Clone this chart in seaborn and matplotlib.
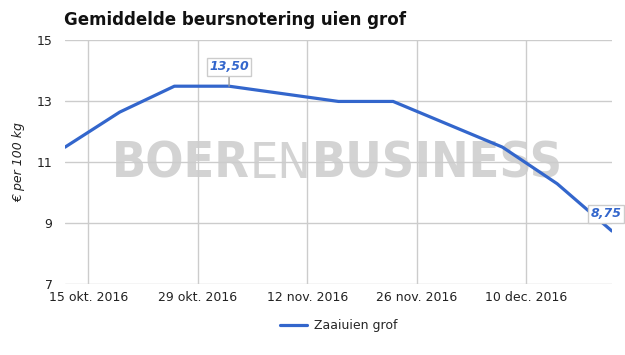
import matplotlib
matplotlib.use("Agg")
import matplotlib.pyplot as plt
import seaborn as sns
import pandas as pd
from matplotlib.lines import Line2D

dates = ["2016-10-12", "2016-10-19", "2016-10-26", "2016-11-02", "2016-11-16",
         "2016-11-23", "2016-12-07", "2016-12-14", "2016-12-21"]
prices = [11.5, 12.65, 13.5, 13.5, 13.0, 13.0, 11.5, 10.3, 8.75]
series_name = "Zaaiuien grof"
tick_dates = ["2016-10-15", "2016-10-29", "2016-11-12", "2016-11-26", "2016-12-10"]
tick_labels = ["15 okt. 2016", "29 okt. 2016", "12 nov. 2016", "26 nov. 2016", "10 dec. 2016"]
y_ticks = [7, 9, 11, 13, 15]

df = pd.DataFrame({"datum": pd.to_datetime(dates), "prijs": prices, "serie": series_name})

sns.set_theme(style="white")
plt.rcParams['font.family'] = ['DejaVu Sans']

fig = plt.figure(figsize=(6.25, 3.55), dpi=100)
ax = fig.add_axes([0.104, 0.199, 0.875, 0.687])
ax.set_ylim(7, 15)

# watermark
wm_y = 10.5
parts = [("BOER", "bold"), ("EN", "normal"), ("BUSINESS", "bold")]
fig.canvas.draw()
r = fig.canvas.get_renderer()
axbb = ax.get_window_extent(r)
target_w = 451.0
fs = 34
texts = []
for s, w in parts:
    t = ax.text(0, wm_y, s, fontsize=fs, fontweight=w, fontstretch="condensed",
                color="#d3d3d3", va="baseline", ha="left",
                transform=ax.get_yaxis_transform(), zorder=0)
    texts.append(t)
widths = [t.get_window_extent(r).width for t in texts]
scale = target_w / sum(widths)
for t in texts:
    t.set_fontsize(fs * scale)
widths = [t.get_window_extent(r).width for t in texts]
x = 112
for t, wdt in zip(texts, widths):
    t.set_x((x - axbb.x0) / axbb.width)
    x += wdt

sns.lineplot(data=df, x="datum", y="prijs", hue="serie", palette=["#3366cc"],
             linewidth=2.3, ax=ax, legend=False, zorder=3)

ax.set_ylim(7, 15)
ax.set_xlim(pd.Timestamp(dates[0]), pd.Timestamp(dates[-1]))
ax.set_yticks(y_ticks)
ax.set_yticklabels([str(v) for v in y_ticks])
ax.set_xticks(pd.to_datetime(tick_dates))
ax.set_xticklabels(tick_labels)
ax.grid(True, color="#cccccc", linewidth=1)
ax.set_axisbelow(True)
for s in ax.spines.values():
    s.set_visible(False)
ax.tick_params(axis="both", length=0, labelsize=9, colors="#222222")
ax.tick_params(axis="x", pad=5)
ax.tick_params(axis="y", pad=9)
ax.set_xlabel("")
ax.set_ylabel("€ per 100 kg", fontsize=9, fontstyle="italic", color="#222222", labelpad=8)

# annotations
ann_style = dict(fontsize=9, fontweight="bold", fontstyle="italic", color="#3366cc",
                 bbox=dict(boxstyle="square,pad=0.2", fc="white", ec="#cccccc", lw=1))
ax.annotate("13,50", xy=(pd.Timestamp(dates[3]), prices[3]), xytext=(0, 14),
            textcoords="offset points", ha="center", va="center",
            arrowprops=dict(arrowstyle="-", color="#999999", lw=1, shrinkA=0, shrinkB=0),
            **ann_style, zorder=5)
ax.annotate("8,75", xy=(pd.Timestamp(dates[-1]), prices[-1]), xytext=(-4, 12.5),
            textcoords="offset points", ha="center", va="center",
            **ann_style, zorder=5, annotation_clip=False)

fig.text(0.102, 0.943, "Gemiddelde beursnotering uien grof", fontsize=12,
         fontweight="bold", color="#111111", va="center", ha="left")

# legend
h = [Line2D([0], [0], color="#3366cc", lw=2.3)]
fig.legend(h, [series_name], loc="center", bbox_to_anchor=(0.5416, 0.082), frameon=False,
           fontsize=9, handlelength=2.2, handletextpad=0.5)

fig.savefig("out.png", dpi=100)
